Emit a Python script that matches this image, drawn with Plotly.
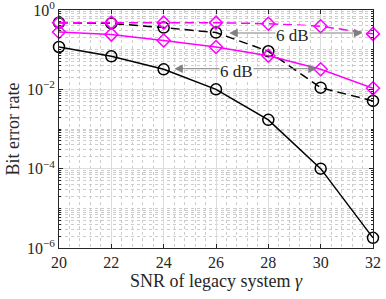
import plotly.graph_objects as go

snr = [20, 22, 24, 26, 28, 30, 32]
ber_black_solid = [0.117, 0.068, 0.032, 0.010, 0.0017, 1.0e-4, 1.8e-6]
ber_black_dash = [0.48, 0.46, 0.36, 0.27, 0.091, 0.011, 0.0051]
ber_mag_dash = [0.48, 0.48, 0.48, 0.48, 0.45, 0.39, 0.25]
ber_mag_solid = [0.28, 0.24, 0.17, 0.117, 0.07, 0.032, 0.0106]

x_ticks = [20, 22, 24, 26, 28, 30, 32]
y_ticks = [1e0, 1e-2, 1e-4, 1e-6]
y_tick_text = ["10<sup>0</sup>", "10<sup>−2</sup>", "10<sup>−4</sup>", "10<sup>−6</sup>"]

MAG = "#FF00FF"
GRAY = "#808080"
FONT = "Liberation Serif"
TXT = "#262626"

fig = go.Figure()
def add(y, color, dash, symbol, size):
    fig.add_trace(go.Scatter(x=snr, y=y, mode="lines+markers", cliponaxis=False,
                             hoverinfo="skip",
                             line=dict(color=color, width=1.5, dash=dash),
                             marker=dict(symbol=symbol, size=size, color=color,
                                         line=dict(width=1.5, color=color))))

add(ber_black_dash, "black", "9px,5px", "circle-open", 11)
add(ber_mag_dash, MAG, "9px,5px", "diamond-open", 10)
add(ber_black_solid, "black", "solid", "circle-open", 11)
add(ber_mag_solid, MAG, "solid", "diamond-open", 10)

# double-headed arrows
arrows = [
    (26.45, 31.6, -0.58),
    (24.35, 29.85, -1.48),
]
for x0, x1, ylog in arrows:
    fig.add_annotation(x=x1, y=ylog, ax=x0, ay=ylog, xref="x", yref="y", axref="x", ayref="y",
                       text="", showarrow=True, arrowhead=2, arrowside="end+start",
                       arrowsize=1.7, arrowwidth=1, arrowcolor=GRAY)

labels = [(28.93, -0.64), (26.8, -1.55)]
for lx, ly in labels:
    fig.add_annotation(x=lx, y=ly, xref="x", yref="y", text="6 dB", showarrow=False,
                       font=dict(family=FONT, size=17, color=TXT), bgcolor="white",
                       borderpad=0)

fig.update_layout(
    width=386, height=299,
    margin=dict(l=59, r=13, t=10, b=51),
    paper_bgcolor="white", plot_bgcolor="white",
    showlegend=False, hovermode=False,
    font=dict(family=FONT, size=16, color=TXT),
)
fig.update_xaxes(
    range=[20, 32], tickmode="array", tickvals=x_ticks,
    showline=True, linecolor=TXT, linewidth=1, mirror="ticks",
    ticks="inside", ticklen=4, tickcolor=TXT,
    showgrid=True, gridcolor="#DCDCDC", gridwidth=1,
    minor=dict(dtick=0.4, showgrid=True, gridcolor="#CCCCCC", griddash="dot", gridwidth=1, ticks=""),
    zeroline=False, automargin=False, ticklabeloverflow="allow",
    tickfont=dict(family=FONT, size=16, color=TXT),
    title=dict(text="SNR of legacy system <i>γ</i>", font=dict(family=FONT, size=18, color=TXT), standoff=4),
)
fig.update_yaxes(
    type="log", range=[-6, 0], tickmode="array", tickvals=y_ticks, ticktext=y_tick_text,
    showline=True, linecolor=TXT, linewidth=1, mirror="ticks",
    ticks="inside", ticklen=4, tickcolor=TXT,
    showgrid=True, gridcolor="#DCDCDC", gridwidth=1,
    minor=dict(dtick="D1", showgrid=True, gridcolor="#CCCCCC", griddash="dot", gridwidth=1,
               ticks="inside", ticklen=2, tickcolor=TXT),
    zeroline=False, automargin=False, ticklabeloverflow="allow",
    tickfont=dict(family=FONT, size=16, color=TXT),
    title=dict(text="Bit error rate", font=dict(family=FONT, size=18, color=TXT), standoff=2),
)

# remove the browser's default 8px body margin so the figure sits at the window origin
fig.write_html("out.html", config={"displayModeBar": False},
               post_script="document.body.style.margin='0px';")
